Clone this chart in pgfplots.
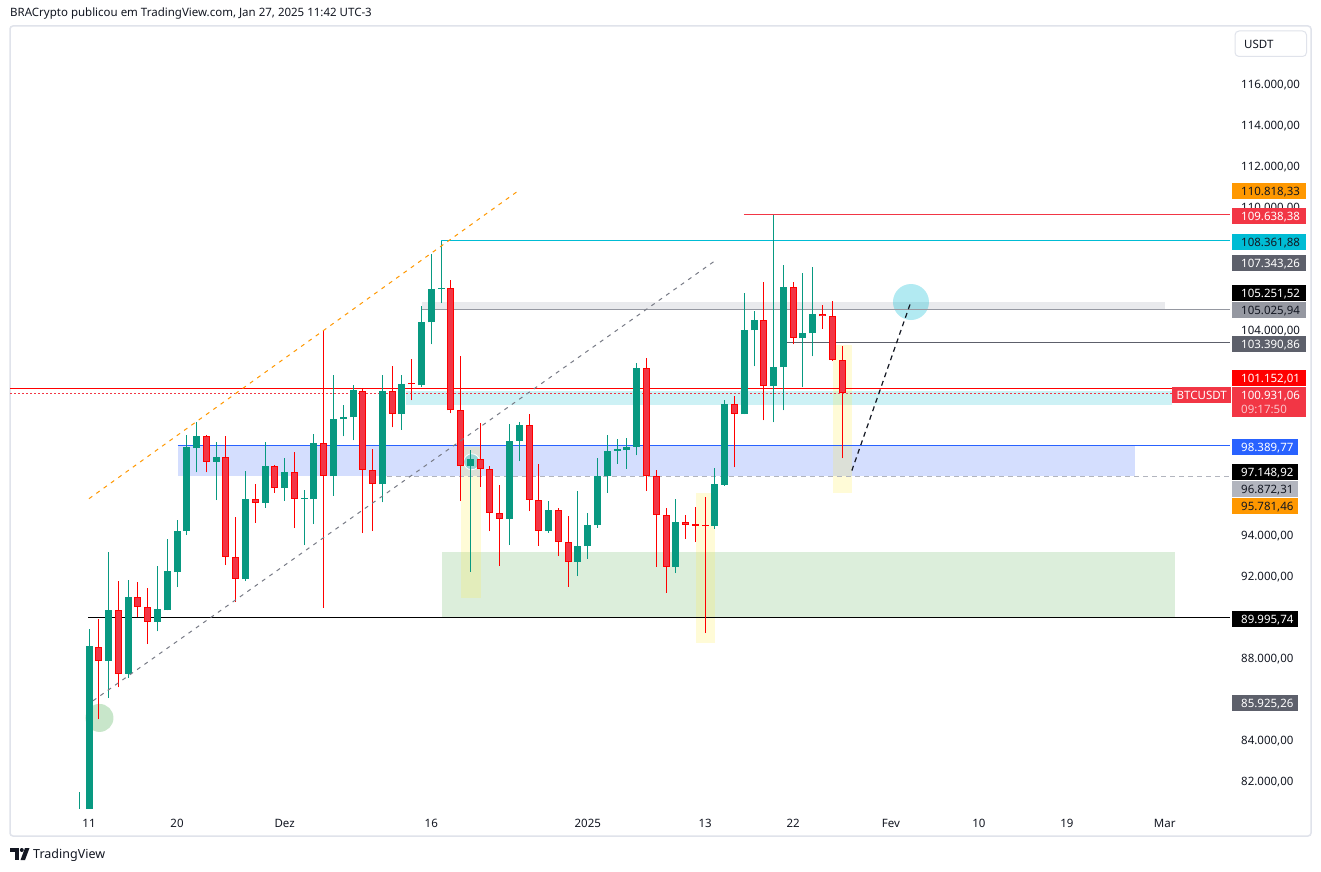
\documentclass[border=0pt]{standalone}
\usepackage{fontspec}
\setmainfont{Noto Sans}
\usepackage{pgfplots}
\pgfplotsset{compat=1.18}
\usepackage{pgfplotstable}

\definecolor{cg}{HTML}{089981}
\definecolor{cr}{HTML}{FF0000}
\definecolor{crf}{HTML}{F23645}
\definecolor{tvtext}{HTML}{131722}
\definecolor{tvframe}{HTML}{E0E3EB}
\definecolor{orng}{HTML}{FF9800}
\definecolor{cyn}{HTML}{00BCD4}
\definecolor{dgray}{HTML}{5D606B}
\definecolor{mgray}{HTML}{9598A1}
\definecolor{lgray}{HTML}{B2B5BE}
\definecolor{tvblue}{HTML}{2962FF}
\definecolor{tline}{HTML}{787B86}
\definecolor{bandgray}{HTML}{E9EAED}
\definecolor{bandcyan}{HTML}{CDF1F5}
\definecolor{bandblue}{HTML}{D4DEFE}
\definecolor{bandgreen}{HTML}{DCEEDB}
\definecolor{tvgreen}{HTML}{4CAF50}
\definecolor{yel}{HTML}{FFEB3B}
\definecolor{pinkt}{HTML}{FBC3C9}

\newcommand\lab{\fontsize{11.5}{13}\selectfont}
\newcommand\pbox[5]{%
  \fill[#3] (1232,{#1-8}) rectangle (#2,{#1+8});
  \node[anchor=base west,inner sep=0pt,text=#4,font=\lab] at (1241,{#1-4.1}) {#5};}

% candles, prices in thousands of USDT: day o h l c (day 0 = 11 Nov 2024)
\pgfplotstableread{
d o h l c
-1 76.700 81.500 76.500 80.370
0 80.370 89.440 80.216 88.590
2 87.860 93.203 86.060 90.330
4 87.230 91.791 87.033 90.963
7 89.760 92.522 89.307 90.379
8 90.330 93.837 90.330 92.230
9 92.200 94.763 91.470 94.226
10 94.194 98.903 94.000 98.285
11 98.236 99.536 97.067 98.854
13 97.573 98.530 95.710 97.831
16 91.840 97.148 91.757 95.786
18 95.575 98.546 95.333 97.393
20 96.290 97.782 95.670 97.100
22 95.770 96.224 93.512 95.830
23 95.752 98.952 94.535 98.513
25 96.873 101.826 95.931 99.682
26 99.650 100.364 98.820 99.765
27 99.750 101.310 98.625 101.060
30 96.482 101.826 95.605 101.046
32 99.900 101.826 99.146 101.393
34 101.310 105.186 101.210 104.407
35 104.374 107.719 103.302 106.014
36 106.000 108.362 105.320 106.070
39 97.360 98.172 92.215 97.734
43 94.795 99.438 93.512 98.610
44 98.594 99.503 97.607 99.375
47 94.194 95.688 94.113 95.250
50 92.700 96.175 92.000 93.496
51 93.463 95.088 92.847 94.519
52 94.487 97.766 94.357 96.906
53 96.873 98.903 96.064 98.123
54 98.123 98.693 97.474 98.190
55 98.140 98.757 97.230 98.303
56 98.303 102.410 97.896 102.150
60 92.440 95.786 92.150 94.665
64 94.438 97.295 94.308 96.516
65 96.467 100.608 96.418 100.413
67 99.895 105.820 99.895 104.017
68 103.984 104.943 102.230 104.505
70 101.258 109.600 99.503 102.215
71 102.181 107.184 100.086 106.112
73 103.594 106.794 101.210 103.857
74 103.838 107.086 102.717 104.797
}\gtab

\pgfplotstableread{
d o h l c
1 88.560 89.925 85.020 87.860
3 90.330 91.743 86.580 87.230
5 90.963 91.694 89.990 90.510
6 90.510 91.402 88.690 89.780
12 98.854 98.900 97.067 97.573
14 97.800 98.822 92.538 92.945
15 92.945 94.893 90.737 91.873
17 95.770 96.500 94.600 95.575
19 97.376 97.400 96.064 96.290
21 97.100 98.075 94.340 95.770
24 98.513 104.017 90.460 96.890
28 101.046 101.144 94.100 97.200
29 97.200 98.220 94.194 96.500
31 101.046 102.264 99.263 99.912
33 101.420 102.605 100.575 101.360
37 106.047 106.453 99.940 100.086
38 100.086 102.751 95.670 97.376
40 97.718 99.487 96.356 97.230
41 97.230 97.393 94.194 95.088
42 95.088 96.467 92.490 94.795
45 99.375 99.925 95.170 95.737
46 95.737 97.490 93.480 94.226
48 95.250 95.315 92.977 93.675
49 93.675 94.957 91.484 92.700
57 102.150 102.653 96.145 96.890
58 96.890 97.200 92.457 94.990
59 94.990 95.315 91.192 92.457
61 94.650 95.006 93.803 94.503
62 94.530 95.396 93.657 94.470
63 94.500 95.883 89.228 94.440
66 100.413 100.803 97.312 99.912
69 104.505 106.355 99.604 101.275
72 106.096 106.355 103.302 103.613
75 104.781 105.235 104.066 104.667
76 104.684 105.430 102.490 102.540
77 102.540 103.205 97.750 100.931
}\rtab

\begin{document}
\begin{tikzpicture}
\begin{scope}[x=1pt,y=1pt]
\fill[white] (0,0) rectangle (1321,871);
\path[use as bounding box] (0,0) rectangle (1321,871);
\draw[tvframe, line width=1.5pt, rounded corners=3pt] (10,845) rectangle (1311,35);
\end{scope}

\begin{axis}[
  at={(10pt,63pt)}, anchor=south west, scale only axis,
  width=1220pt, height=782pt,
  xmin=-8.078, xmax=116.67, ymin=80.698, ymax=118.828,
  axis line style={draw=none}, tick style={draw=none},
  xtick={0,9,20,35,51,63,72,82,91,100,110},
  xticklabels={11,20,Dez,16,\textbf{2025},13,22,Fev,10,19,Mar},
  ytick={82,84,88,92,94,104,110,112,114,116},
  yticklabels={{82.000,00},{84.000,00},{88.000,00},{92.000,00},{94.000,00},{104.000,00},{110.000,00},{112.000,00},{114.000,00},{116.000,00}},
  yticklabel pos=right,
  x tick label style={font=\lab, text=tvtext, anchor=base, yshift=-19.1pt, inner sep=0pt},
  y tick label style={font=\lab, text=tvtext, anchor=base west, xshift=11pt, yshift=-4.1pt, inner sep=0pt},
]
% bands
\fill[bandgray] (axis cs:34.05,105.026) rectangle (axis cs:110.02,105.37);
\fill[bandcyan] (axis cs:32.4,100.35) rectangle (axis cs:110.7,101.03);
\fill[bandblue] (axis cs:9.1,96.872) rectangle (axis cs:106.95,98.390);
\fill[bandgreen] (axis cs:36.1,89.996) rectangle (axis cs:111.04,93.197);
% highlight rectangles
\fill[yel, fill opacity=0.2] (axis cs:38.04,90.95) rectangle (axis cs:40.08,98.30);
\fill[yel, fill opacity=0.2] (axis cs:62.07,88.76) rectangle (axis cs:64.0,96.06);
\fill[yel, fill opacity=0.2] (axis cs:76.07,96.06) rectangle (axis cs:78.0,103.27);
% circles
\fill[tvgreen, fill opacity=0.3] (axis cs:1.07,85.09) circle[radius=14pt];
\fill[cyn, fill opacity=0.3] (axis cs:84.05,105.37) circle[radius=18pt];
\filldraw[draw=white, fill=cyn, fill opacity=0.3, line width=0.8pt] (axis cs:39.13,97.58) circle[radius=8pt];
% horizontal levels
\addplot[draw=mgray, line width=1pt] coordinates {(34.05,105.026) (116.67,105.026)};
\addplot[draw=dgray, line width=1pt] coordinates {(71.37,103.391) (116.67,103.391)};
\addplot[draw=cyn, line width=1pt] coordinates {(36,108.362) (116.67,108.362)};
\addplot[draw=crf, line width=1pt] coordinates {(66.97,109.638) (116.67,109.638)};
\addplot[draw=cr, line width=1pt] coordinates {(-8.078,101.152) (116.67,101.152)};
\addplot[draw=crf, line width=1pt, dash pattern=on 1.5pt off 2.5pt] coordinates {(-8.078,100.931) (116.67,100.931)};
\addplot[draw=tvblue, line width=1pt] coordinates {(9.1,98.390) (116.67,98.390)};
\addplot[draw=lgray, line width=1pt, dash pattern=on 5pt off 4pt] coordinates {(30.47,96.872) (116.67,96.872)};
\addplot[draw=black, line width=1pt] coordinates {(-0.07,89.996) (116.67,89.996)};
% candles: wicks
\addplot[draw=cg, line width=1pt, quiver={u=0, v=\thisrow{h}-\thisrow{l}}] table[x=d, y=l] {\gtab};
\addplot[draw=cr, line width=1pt, quiver={u=0, v=\thisrow{h}-\thisrow{l}}] table[x=d, y=l] {\rtab};
% candles: bodies
\addplot[draw=cg, line width=7pt, quiver={u=0, v=\thisrow{c}-\thisrow{o}}] table[x=d, y=o] {\gtab};
\addplot[draw=cr, line width=7pt, quiver={u=0, v=\thisrow{o}-\thisrow{c}}] table[x=d, y=c] {\rtab};
\addplot[draw=crf, line width=5pt, quiver={u=0, v={max(\thisrow{o}-\thisrow{c}-0.0976,0)}}] table[x=d, y expr=\thisrow{c}+0.0488] {\rtab};
% trend lines
\addplot[draw=orng, line width=1pt, dash pattern=on 4pt off 5pt] coordinates {(0,95.781) (43.97,110.818)};
\addplot[draw=tline, line width=1pt, dash pattern=on 4pt off 5pt] coordinates {(0.41,85.925) (63.9,107.343)};
\addplot[draw=tvtext, line width=1.2pt, dash pattern=on 5pt off 4pt] coordinates {(78.0,97.149) (83.95,105.252)};
\end{axis}

\begin{scope}[x=1pt,y=1pt]
% price scale labels
\pbox{679.7}{1306}{orng}{tvtext}{110.818,33}
\pbox{654.7}{1306}{crf}{white}{109.638,38}
\pbox{629}{1306}{cyn}{tvtext}{108.361,88}
\pbox{608}{1306}{dgray}{white}{107.343,26}
\pbox{577.7}{1306}{black}{white}{105.251,52}
\pbox{560.7}{1306}{mgray}{tvtext}{105.025,94}
\pbox{527}{1306}{dgray}{white}{103.390,86}
\pbox{492.7}{1306}{cr}{white}{101.152,01}
\fill[crf] (1232,483.7) rectangle (1306,453.7);
\node[anchor=base west,inner sep=0pt,text=white,font=\lab] at (1241,471.9) {100.931,06};
\node[anchor=base west,inner sep=0pt,text=pinkt,font=\lab] at (1241,457.9) {09:17:50};
\fill[crf] (1172,483.7) rectangle (1231,467.7);
\node[anchor=base west,inner sep=0pt,text=white,font=\lab] at (1176.5,471.6) {BTCUSDT};
\pbox{423.7}{1298}{tvblue}{white}{98.389,77}
\pbox{398.7}{1298}{black}{white}{97.148,92}
\pbox{381.7}{1298}{lgray}{tvtext}{96.872,31}
\pbox{365}{1298}{orng}{tvtext}{95.781,46}
\pbox{251.7}{1298}{black}{white}{89.995,74}
\pbox{167.7}{1298}{dgray}{white}{85.925,26}
% currency button
\draw[tvframe, fill=white, line width=1pt, rounded corners=4pt] (1235,840) rectangle (1306.5,814.5);
\node[anchor=base west,inner sep=0pt,text=tvtext,font=\lab] at (1244,822.8) {USDT};

% header and footer
\node[anchor=base west,inner sep=0pt,text=tvtext,font=\lab] at (10,854.7) {BRACrypto publicou em TradingView.com, Jan 27, 2025 11:42 UTC-3};
\fill[tvtext] (10,23) rectangle (19,19);
\fill[tvtext] (14.5,23) rectangle (19,11);
\fill[tvtext] (21.8,21) circle[radius=2];
\fill[tvtext] (20.5,11) -- (25,11) -- (29.5,23) -- (25,23) -- cycle;
\node[anchor=base west,inner sep=0pt,text=tvtext,font=\fontsize{12.5}{14}\selectfont] at (33,12.5) {TradingView};
\end{scope}
\end{tikzpicture}
\end{document}
